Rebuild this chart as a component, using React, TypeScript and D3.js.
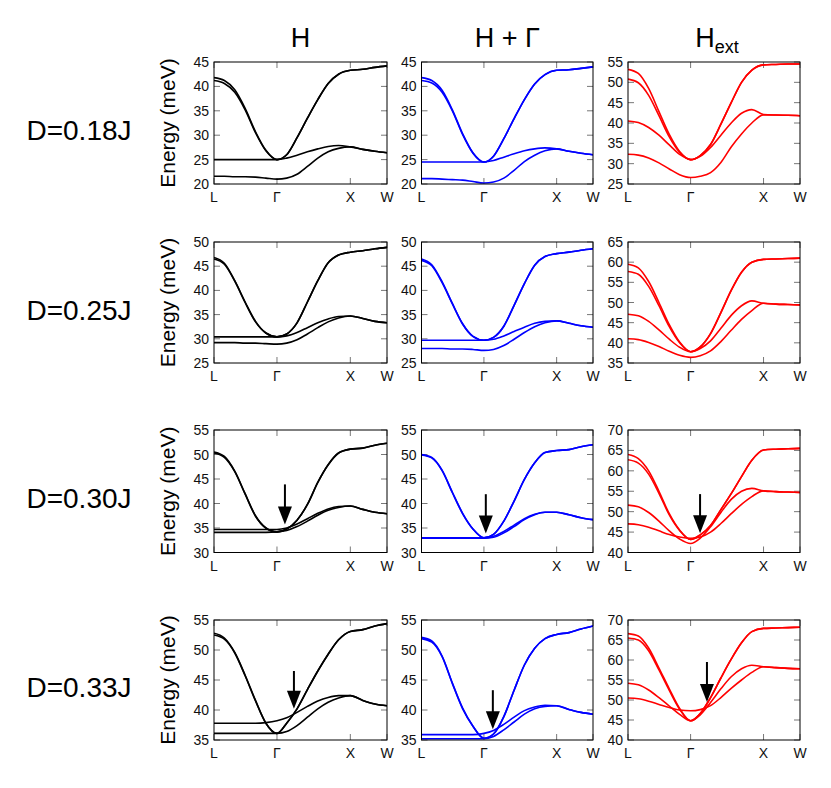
import React from "react";
import * as d3 from "d3";

// k-path sample positions (fraction of path): L -> Γ -> X -> W
const kPath = [0, 0.06, 0.12, 0.18, 0.24, 0.3, 0.364, 0.42, 0.48, 0.54, 0.6, 0.66, 0.72, 0.788, 0.86, 0.93, 1.0];
const kTickPos = [0, 0.364, 0.788, 1];
const kTickLabels = ["L", "Γ", "X", "W"];
const rowLabels = ["D=0.18J", "D=0.25J", "D=0.30J", "D=0.33J"];
const colColors = ["#000000", "#0000ff", "#ff0000"];

// Energy domains (meV) per row, per column
const yDomainsRow1 = [[20, 45], [20, 45], [25, 55]];
const yDomainsRow2 = [[25, 50], [25, 50], [35, 65]];
const yDomainsRow3 = [[30, 55], [30, 55], [40, 70]];
const yDomainsRow4 = [[35, 55], [35, 55], [40, 70]];

// D = 0.18J
const bandsH018 = [
  [41.8, 41.2, 39.3, 35.5, 30.7, 26.9, 25.0, 26.0, 29.5, 33.5, 37.3, 40.6, 42.5, 43.3, 43.5, 43.9, 44.2],
  [41.2, 40.6, 38.8, 35.2, 30.5, 26.8, 25.0, 26.0, 29.5, 33.5, 37.3, 40.6, 42.5, 43.3, 43.5, 43.9, 44.2],
  [25.0, 25.0, 25.0, 25.0, 25.0, 25.0, 25.0, 25.3, 25.9, 26.6, 27.2, 27.7, 27.9, 27.6, 27.1, 26.7, 26.4],
  [21.6, 21.6, 21.5, 21.5, 21.4, 21.2, 21.0, 21.2, 22.0, 23.6, 25.3, 26.6, 27.3, 27.6, 27.1, 26.7, 26.4],
];
const bandsHG018 = [
  [41.8, 41.2, 39.2, 35.2, 30.3, 26.4, 24.5, 25.7, 29.3, 33.4, 37.3, 40.5, 42.4, 43.3, 43.4, 43.7, 44.0],
  [41.2, 40.7, 38.8, 35.0, 30.1, 26.3, 24.5, 25.7, 29.3, 33.4, 37.3, 40.5, 42.4, 43.3, 43.4, 43.7, 44.0],
  [24.5, 24.5, 24.5, 24.5, 24.5, 24.5, 24.5, 24.8, 25.5, 26.2, 26.8, 27.2, 27.4, 27.2, 26.7, 26.3, 26.0],
  [21.1, 21.1, 21.0, 20.9, 20.8, 20.5, 20.2, 20.4, 21.2, 22.8, 24.6, 25.9, 26.8, 27.2, 26.7, 26.3, 26.0],
];
const bandsExt018 = [
  [53.2, 52.2, 48.5, 42.8, 37.2, 33.0, 31.0, 32.0, 34.7, 39.7, 45.0, 50.0, 53.0, 54.3, 54.4, 54.5, 54.5],
  [50.8, 49.9, 46.8, 41.8, 36.6, 32.8, 31.0, 32.0, 34.7, 39.7, 45.0, 50.0, 53.0, 54.3, 54.4, 54.5, 54.5],
  [40.5, 40.1, 38.9, 37.0, 34.6, 32.3, 31.0, 31.8, 34.0, 37.0, 40.0, 42.4, 43.3, 42.1, 41.95, 41.9, 41.8],
  [32.3, 32.1, 31.4, 30.2, 28.7, 27.3, 26.6, 26.9, 27.8, 30.3, 34.1, 37.3, 40.0, 42.0, 41.95, 41.9, 41.8],
];

// D = 0.25J
const bandsH025 = [
  [46.8, 45.6, 42.0, 37.6, 33.6, 31.2, 30.4, 31.0, 33.3, 37.6, 42.0, 45.7, 47.3, 47.9, 48.2, 48.6, 48.9],
  [46.5, 45.4, 41.9, 37.5, 33.5, 31.2, 30.4, 31.0, 33.3, 37.6, 42.0, 45.7, 47.3, 47.9, 48.2, 48.6, 48.9],
  [30.4, 30.4, 30.4, 30.4, 30.4, 30.4, 30.4, 30.6, 31.3, 32.3, 33.3, 34.1, 34.6, 34.7, 34.2, 33.6, 33.3],
  [29.2, 29.2, 29.2, 29.1, 29.1, 29.0, 28.9, 29.1, 29.8, 31.0, 32.3, 33.5, 34.3, 34.7, 34.2, 33.6, 33.3],
];
const bandsHG025 = [
  [46.5, 45.3, 41.8, 37.3, 33.1, 30.5, 29.7, 30.3, 32.6, 36.9, 41.4, 45.2, 47.0, 47.6, 47.9, 48.3, 48.6],
  [46.2, 45.1, 41.6, 37.2, 33.0, 30.5, 29.7, 30.3, 32.6, 36.9, 41.4, 45.2, 47.0, 47.6, 47.9, 48.3, 48.6],
  [29.7, 29.7, 29.7, 29.7, 29.7, 29.7, 29.7, 29.9, 30.6, 31.5, 32.4, 33.2, 33.6, 33.7, 33.2, 32.7, 32.4],
  [28.0, 28.0, 28.0, 27.9, 27.9, 27.8, 27.6, 27.8, 28.6, 29.9, 31.3, 32.5, 33.3, 33.7, 33.2, 32.7, 32.4],
];
const bandsExt025 = [
  [59.5, 58.6, 55.2, 50.0, 44.5, 40.2, 37.8, 39.0, 42.3, 47.5, 53.0, 57.5, 60.0, 60.7, 60.8, 60.9, 61.0],
  [57.7, 57.0, 54.0, 49.2, 44.0, 40.0, 37.8, 39.0, 42.3, 47.5, 53.0, 57.5, 60.0, 60.7, 60.8, 60.9, 61.0],
  [47.1, 46.7, 45.3, 43.2, 40.9, 38.9, 37.8, 38.6, 40.5, 43.6, 46.8, 49.2, 50.4, 49.8, 49.6, 49.5, 49.4],
  [41.0, 40.8, 40.1, 39.1, 37.9, 36.9, 36.4, 36.8, 38.0, 40.3, 43.1, 45.8, 48.0, 49.8, 49.6, 49.5, 49.4],
];

// D = 0.30J
const bandsH030 = [
  [50.5, 49.6, 46.6, 42.0, 37.5, 35.0, 34.2, 34.8, 36.6, 39.8, 44.3, 47.9, 50.3, 51.1, 51.3, 51.9, 52.3],
  [50.3, 49.4, 46.5, 41.9, 37.4, 35.0, 34.2, 34.8, 36.6, 39.8, 44.3, 47.9, 50.3, 51.1, 51.3, 51.9, 52.3],
  [34.7, 34.7, 34.7, 34.7, 34.7, 34.7, 34.7, 35.0, 35.8, 36.9, 38.0, 38.9, 39.4, 39.5, 38.8, 38.2, 37.9],
  [34.1, 34.1, 34.1, 34.1, 34.1, 34.1, 34.2, 34.5, 35.3, 36.4, 37.6, 38.6, 39.2, 39.5, 38.8, 38.2, 37.9],
];
const bandsHG030 = [
  [50.0, 49.4, 46.8, 42.3, 38.0, 34.8, 33.0, 33.7, 36.4, 40.5, 44.9, 48.3, 50.4, 50.8, 51.0, 51.6, 52.0],
  [49.9, 49.3, 46.7, 42.2, 37.9, 34.8, 33.0, 33.7, 36.4, 40.5, 44.9, 48.3, 50.4, 50.8, 51.0, 51.6, 52.0],
  [33.0, 33.0, 33.0, 33.0, 33.0, 33.0, 33.0, 33.3, 34.3, 35.6, 36.9, 37.8, 38.2, 38.2, 37.7, 37.1, 36.7],
  [32.9, 32.9, 32.9, 32.9, 32.9, 32.9, 32.9, 33.1, 34.0, 35.3, 36.7, 37.7, 38.2, 38.2, 37.7, 37.1, 36.7],
];
const bandsExt030 = [
  [64.0, 63.0, 60.0, 55.0, 49.5, 45.5, 43.2, 44.3, 46.6, 50.5, 54.4, 58.6, 62.6, 65.1, 65.3, 65.4, 65.5],
  [62.7, 61.9, 59.2, 54.5, 49.2, 45.4, 43.2, 44.3, 46.6, 50.5, 54.4, 58.6, 62.6, 65.1, 65.3, 65.4, 65.5],
  [51.6, 51.2, 49.8, 47.7, 45.3, 43.3, 42.2, 43.5, 46.3, 49.8, 53.0, 55.0, 55.7, 55.1, 54.9, 54.8, 54.7],
  [47.0, 46.8, 46.2, 45.3, 44.4, 43.8, 43.5, 43.8, 45.0, 47.1, 49.5, 51.8, 53.7, 55.1, 54.9, 54.8, 54.7],
];

// D = 0.33J
const bandsH033 = [
  [52.8, 52.0, 49.6, 45.8, 41.6, 37.8, 36.1, 37.8, 40.2, 43.4, 46.5, 49.3, 51.7, 53.1, 53.4, 54.0, 54.4],
  [52.5, 51.8, 49.5, 45.7, 41.5, 37.8, 36.1, 37.8, 40.2, 43.4, 46.5, 49.3, 51.7, 53.1, 53.4, 54.0, 54.4],
  [37.8, 37.8, 37.8, 37.8, 37.8, 37.9, 38.2, 38.7, 39.6, 40.6, 41.5, 42.1, 42.4, 42.4, 41.6, 41.0, 40.7],
  [36.1, 36.1, 36.1, 36.1, 36.1, 36.1, 36.1, 36.4, 37.4, 38.8, 40.2, 41.3, 42.0, 42.4, 41.6, 41.0, 40.7],
];
const bandsHG033 = [
  [52.1, 51.5, 49.0, 44.5, 40.3, 37.3, 35.3, 36.0, 38.9, 43.3, 47.5, 50.3, 51.9, 52.6, 52.9, 53.5, 54.0],
  [51.9, 51.3, 48.9, 44.4, 40.2, 37.3, 35.3, 36.0, 38.9, 43.3, 47.5, 50.3, 51.9, 52.6, 52.9, 53.5, 54.0],
  [35.9, 35.9, 35.9, 35.9, 35.9, 35.9, 36.1, 36.6, 37.6, 38.8, 39.9, 40.5, 40.8, 40.7, 40.1, 39.6, 39.3],
  [35.2, 35.2, 35.2, 35.2, 35.2, 35.2, 35.2, 35.6, 36.7, 38.0, 39.3, 40.2, 40.6, 40.7, 40.1, 39.6, 39.3],
];
const bandsExt033 = [
  [66.6, 66.0, 63.0, 58.0, 52.8, 47.9, 44.8, 46.6, 50.6, 55.5, 60.2, 64.3, 67.1, 67.9, 68.0, 68.1, 68.2],
  [65.5, 65.0, 62.3, 57.5, 52.4, 47.7, 44.8, 46.6, 50.6, 55.5, 60.2, 64.3, 67.1, 67.9, 68.0, 68.1, 68.2],
  [54.2, 53.8, 52.5, 50.6, 48.5, 46.4, 44.8, 46.3, 49.4, 52.8, 55.8, 57.8, 58.7, 58.3, 58.1, 57.9, 57.8],
  [50.5, 50.3, 49.7, 48.9, 48.1, 47.5, 47.3, 47.6, 48.6, 50.6, 52.9, 55.0, 56.9, 58.3, 58.1, 57.9, 57.8],
];

// Arrow annotations: [row, col, k, energyTop, energyTip]
const arrowMarks = [
  [2, 0, 0.41, 43.9, 35.7],
  [2, 1, 0.375, 41.9, 33.9],
  [2, 2, 0.419, 54.3, 44.7],
  [3, 0, 0.462, 46.5, 40.2],
  [3, 1, 0.416, 43.3, 36.8],
  [3, 2, 0.459, 59.5, 49.5],
];

const bandTable = [
  [bandsH018, bandsHG018, bandsExt018],
  [bandsH025, bandsHG025, bandsExt025],
  [bandsH030, bandsHG030, bandsExt030],
  [bandsH033, bandsHG033, bandsExt033],
];
const domainTable = [yDomainsRow1, yDomainsRow2, yDomainsRow3, yDomainsRow4];

// layout
const colX = [214, 421.5, 628];
const colW = [173, 171.5, 172];
const rowY = [62, 242, 430, 620];
const rowH = [122, 121, 122.5, 120];
const FONT = "'Liberation Sans', Arial, Helvetica, sans-serif";

function Panel({ r, c }: { r: number; c: number }) {
  const x0 = colX[c];
  const w = colW[c];
  const y0 = rowY[r];
  const h = rowH[r];
  const dom = domainTable[r][c];
  const xs = d3.scaleLinear().domain([0, 1]).range([x0, x0 + w]);
  const ys = d3.scaleLinear().domain(dom).range([y0 + h, y0]);
  const yTicks = d3.range(dom[0], dom[1] + 0.01, 5);
  const line = d3
    .line<number>()
    .x((_, i) => xs(kPath[i]))
    .y((v) => ys(v))
    .curve(d3.curveMonotoneX);
  const clipId = `clip-${r}-${c}`;
  const tl = 6;
  const arrows = arrowMarks.filter((a) => a[0] === r && a[1] === c);
  return (
    <g>
      <defs>
        <clipPath id={clipId}>
          <rect x={x0} y={y0} width={w} height={h} />
        </clipPath>
      </defs>
      {yTicks.map((t) => (
        <g key={"yt" + t}>
          <line x1={x0} x2={x0 + tl} y1={ys(t)} y2={ys(t)} stroke="#777" strokeWidth={1} />
          <line x1={x0 + w - tl} x2={x0 + w} y1={ys(t)} y2={ys(t)} stroke="#777" strokeWidth={1} />
          <text
            x={x0 - 5}
            y={ys(t)}
            dy="0.36em"
            textAnchor="end"
            fontSize={14}
            fontFamily={FONT}
            fill="#111"
          >
            {t}
          </text>
        </g>
      ))}
      {kTickPos.map((k, i) => (
        <g key={"xt" + i}>
          <line x1={xs(k)} x2={xs(k)} y1={y0} y2={y0 + tl} stroke="#777" strokeWidth={1} />
          <line x1={xs(k)} x2={xs(k)} y1={y0 + h - tl} y2={y0 + h} stroke="#777" strokeWidth={1} />
          <text
            x={xs(k)}
            y={y0 + h + 18}
            textAnchor="middle"
            fontSize={14}
            fontFamily={FONT}
            fill="#111"
          >
            {kTickLabels[i]}
          </text>
        </g>
      ))}
      <g clipPath={`url(#${clipId})`}>
        {bandTable[r][c].map((b, i) => (
          <path key={i} d={line(b) || ""} fill="none" stroke={colColors[c]} strokeWidth={1.6} />
        ))}
      </g>
      <rect x={x0} y={y0} width={w} height={h} fill="none" stroke="#000" strokeWidth={1} />
      {arrows.map((a, i) => {
        const ax = xs(a[2]);
        const yTop = ys(a[3]);
        const yTip = ys(a[4]);
        const hh = 18;
        const hw = 7;
        return (
          <g key={"ar" + i}>
            <line x1={ax} x2={ax} y1={yTop} y2={yTip - hh + 2} stroke="#000" strokeWidth={2} />
            <path
              d={`M${ax - hw},${yTip - hh} L${ax + hw},${yTip - hh} L${ax},${yTip} Z`}
              fill="#000"
            />
          </g>
        );
      })}
      {c === 0 && (
        <text
          transform={`translate(${x0 - 39},${y0 + h / 2}) rotate(-90)`}
          textAnchor="middle"
          fontSize={21}
          fontFamily={FONT}
          fill="#000"
        >
          Energy (meV)
        </text>
      )}
    </g>
  );
}

export default function App() {
  const panels: JSX.Element[] = [];
  for (let r = 0; r < 4; r++) for (let c = 0; c < 3; c++) panels.push(<Panel key={`${r}-${c}`} r={r} c={c} />);
  return (
    <svg
      width={831}
      height={788}
      style={{ position: "absolute", left: 0, top: 0, background: "#fff" }}
    >
      <rect x={0} y={0} width={831} height={788} fill="#fff" />
      <text x={colX[0] + colW[0] / 2} y={47} textAnchor="middle" fontSize={27} fontFamily={FONT}>
        H
      </text>
      <text x={colX[1] + colW[1] / 2} y={47} textAnchor="middle" fontSize={27} fontFamily={FONT}>
        H + Γ
      </text>
      <text x={colX[2] + colW[2] / 2 + 3} y={47} textAnchor="middle" fontSize={27} fontFamily={FONT}>
        H
        <tspan fontSize={18} dy={6}>
          ext
        </tspan>
      </text>
      {rowLabels.map((lab, r) => (
        <text
          key={lab}
          x={79}
          y={rowY[r] + rowH[r] / 2 + 17}
          textAnchor="middle"
          fontSize={28}
          fontFamily={FONT}
        >
          {lab}
        </text>
      ))}
      {panels}
    </svg>
  );
}
